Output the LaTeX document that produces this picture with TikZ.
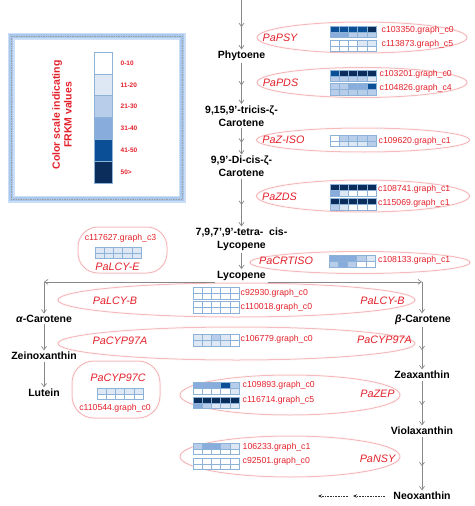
\documentclass[tikz,border=0pt]{standalone}
\usepackage{fontspec}
\setmainfont{Liberation Sans}
\usetikzlibrary{arrows.meta,decorations.markings,shapes.geometric}
\definecolor{redtxt}{HTML}{E3202A}
\definecolor{encol}{HTML}{F2A0A5}
\definecolor{arrgray}{HTML}{888888}
\definecolor{hm0}{HTML}{FFFFFF}
\definecolor{hm1}{HTML}{DEE8F4}
\definecolor{hm2}{HTML}{B7CDEA}
\definecolor{hm3}{HTML}{88ADDC}
\definecolor{hm4}{HTML}{0B4F97}
\definecolor{hm5}{HTML}{0A2D5C}
\definecolor{gridc}{HTML}{8DB2D8}
\definecolor{glowc}{HTML}{A9C8EE}
\newcommand\hmap[4]{%
  \foreach \v [count=\i from 0] in {#3}{\path[hcell,fill=hm\v] ({#1+\i*9.2},{#2}) rectangle ++(9.2,5.8);}%
  \foreach \v [count=\i from 0] in {#4}{\path[hcell,fill=hm\v] ({#1+\i*9.2},{#2+5.8}) rectangle ++(9.2,5.8);}%
}
\tikzset{
  plabel/.style={font=\bfseries\fontsize{10.5}{13}\selectfont, align=center, inner sep=1.5pt, text=black},
  elabel/.style={font=\itshape\fontsize{10.8}{13}\selectfont, text=redtxt, inner sep=1pt},
  gene/.style={font=\fontsize{8.7}{10}\selectfont, text=redtxt, inner sep=0.5pt, anchor=west},
  genec/.style={font=\fontsize{8.7}{10}\selectfont, text=redtxt, inner sep=0.5pt},
  enz/.style={draw=encol, line width=0.5pt, preaction={draw=encol!15, line width=2.2pt}, inner sep=0pt},
  enzell/.style={enz, ellipse},
  hcell/.style={draw=gridc, line width=0.35pt},
  barb/.tip={Straight Barb[length=3.5pt,width=5pt,line width=0.7pt]},
  harrow/.style={draw=arrgray, color=arrgray, line width=0.6pt, -barb},
  garrow/.style={harrow, postaction={decorate},
    decoration={markings, mark=at position 0.55 with {\arrow{barb}}}},
  dotar/.style={densely dotted, draw=black!80, line width=0.6pt, -{Stealth[length=4pt,width=3.5pt]}},
  legval/.style={font=\bfseries\fontsize{6.5}{8}\selectfont, text=redtxt, anchor=west, inner sep=0.5pt}
}
\begin{document}
\begin{tikzpicture}[x=1pt,y=-1pt]
\useasboundingbox (0,0) rectangle (474,506);

% ---- legend ----
\node[draw=glowc!60, line width=7pt, minimum width=171pt, minimum height=163pt, inner sep=0pt] (legendglow) at (96.5,117.5) {};
\node[draw=glowc, line width=4pt, minimum width=171pt, minimum height=163pt, inner sep=0pt] (legend) at (96.5,117.5) {};
\node[draw=gray!75, densely dotted, line width=0.7pt, minimum width=171pt, minimum height=163pt, inner sep=0pt] (legendin) at (96.5,117.5) {};
\foreach \c [count=\i from 0] in {hm0,hm1,hm2,hm3,hm4,hm5}{\path[hcell,fill=\c] (94,{52+\i*21.8}) rectangle ++(18,21.8);}
\node[legval] (lv0) at (120,63) {0-10};
\node[legval] (lv1) at (120,84.8) {11-20};
\node[legval] (lv2) at (120,106.6) {21-30};
\node[legval] (lv3) at (120,128.4) {31-40};
\node[legval] (lv4) at (120,150.2) {41-50};
\node[legval] (lv5) at (120,172) {50>};
\node[font=\bfseries\fontsize{10.5}{11.8}\selectfont, text=redtxt, rotate=90, align=center, inner sep=0pt] (ltitle) at (62,115) {Color scale indicating\\FRKM values};

% ---- enzyme enclosures ----
\node[enzell, minimum width=210pt, minimum height=31pt] (ePSY) at (362,37.5) {};
\node[enzell, minimum width=210pt, minimum height=30pt] (ePDS) at (362,82.5) {};
\node[enzell, minimum width=213pt, minimum height=24pt] (eISO) at (363,140) {};
\node[enzell, minimum width=213pt, minimum height=32pt] (eZDS) at (363,196) {};
\node[enzell, minimum width=220pt, minimum height=22pt] (eCRT) at (360,262.5) {};
\node[enz, rectangle, rounded corners=20pt, minimum width=89pt, minimum height=46pt] (eLCYE) at (122.5,250) {};
\node[enzell, minimum width=357pt, minimum height=34pt] (eLCYB) at (236.5,300) {};
\node[enzell, minimum width=357pt, minimum height=33pt] (eCYPA) at (236.5,343.5) {};
\node[enz, rectangle, rounded corners=22pt, minimum width=88pt, minimum height=57pt] (eCYPC) at (116,389.5) {};
\node[enzell, minimum width=220pt, minimum height=40pt] (eZEP) at (290,395) {};
\node[enzell, minimum width=220pt, minimum height=41pt] (eNSY) at (290,456.5) {};

% ---- heatmaps ----
\hmap{330}{26}{4,4,4,4,5}{3,3,2,2,2}
\hmap{330}{40}{0,0,0,1,1}{0,0,0,0,0}
\hmap{330}{70}{4,5,5,5,5}{2,2,2,2,1}
\hmap{330}{83.5}{2,2,3,3,4}{2,2,2,2,2}
\hmap{330}{135}{0,2,2,2,2}{0,1,1,1,2}
\hmap{330}{184.5}{5,5,5,5,5}{3,1,0,0,0}
\hmap{330}{198.5}{5,5,5,5,5}{2,1,0,0,0}
\hmap{329}{255.5}{3,3,3,2,1}{2,3,2,0,0}
\hmap{95}{247}{1,1,1,1,1}{1,1,1,1,1}
\hmap{193}{287.5}{0,0,0,0,0}{0,0,0,0,0}
\hmap{193}{301.5}{0,0,0,0,0}{0,0,0,0,0}
\hmap{193}{334.5}{1,1,2,1,0}{1,1,1,1,0}
\hmap{97}{388}{1,1,1,1,1}{0,0,0,0,0}
\hmap{193}{382.5}{3,3,3,4,2}{0,0,0,0,1}
\hmap{193}{397}{5,5,5,5,5}{3,2,1,1,1}
\hmap{193}{443}{2,3,3,2,1}{0,0,0,0,0}
\hmap{193}{458}{0,0,0,0,0}{0,0,0,0,0}

% ---- enzyme labels ----
\node[elabel] (lPSY) at (280,37.5) {PaPSY};
\node[elabel] (lPDS) at (280.5,83) {PaPDS};
\node[elabel] (lISO) at (283.5,140) {PaZ-ISO};
\node[elabel] (lZDS) at (279.5,197) {PaZDS};
\node[elabel] (lCRT) at (286,261) {PaCRTISO};
\node[elabel] (lLCYE) at (117.5,266.5) {PaLCY-E};
\node[elabel] (lLCYB1) at (115,300.5) {PaLCY-B};
\node[elabel] (lLCYB2) at (382.5,300.5) {PaLCY-B};
\node[elabel] (lCYPA1) at (120,340.5) {PaCYP97A};
\node[elabel] (lCYPA2) at (384.5,339.5) {PaCYP97A};
\node[elabel] (lCYPC) at (118,378) {PaCYP97C};
\node[elabel] (lZEP) at (377.5,394) {PaZEP};
\node[elabel] (lNSY) at (377.5,458.5) {PaNSY};

% ---- gene ids ----
\node[gene] (g1) at (381,30.5) {c103350.graph\_c0};
\node[gene] (g2) at (381,44) {c113873.graph\_c5};
\node[gene] (g3) at (379,74) {c103201.graph\_c0};
\node[gene] (g4) at (379,88) {c104826.graph\_c4};
\node[gene] (g5) at (378,141) {c109620.graph\_c1};
\node[gene] (g6) at (377.5,189) {c108741.graph\_c1};
\node[gene] (g7) at (377.5,203) {c115069.graph\_c1};
\node[gene] (g8) at (377.5,260.7) {c108133.graph\_c1};
\node[genec] (g9) at (120.5,238) {c117627.graph\_c3};
\node[gene] (g10) at (240,293) {c92930.graph\_c0};
\node[gene] (g11) at (240,307.5) {c110018.graph\_c0};
\node[gene] (g12) at (240,339.5) {c106779.graph\_c0};
\node[genec] (g13) at (115,408) {c110544.graph\_c0};
\node[gene] (g14) at (242,385.7) {c109893.graph\_c0};
\node[gene] (g15) at (242,400.7) {c116714.graph\_c5};
\node[gene] (g16) at (242,447.3) {106233.graph\_c1};
\node[gene] (g17) at (242,461.7) {c92501.graph\_c0};

% ---- pathway ----
\coordinate (top) at (241.5,0);
\node[plabel] (phy) at (241.5,56) {Phytoene};
\node[plabel] (tri) at (241.5,116) {9,15,9'-tricis-ζ-\\Carotene};
\node[plabel] (dic) at (241.5,166.5) {9,9'-Di-cis-ζ-\\Carotene};
\node[plabel] (tet) at (241.5,239.5) {7,9,7',9'-tetra-\ \ cis-\\Lycopene};
\node[plabel] (lyc) at (241.5,275.5) {Lycopene};
\node[plabel] (acar) at (44,319) {\textit{α}-Carotene};
\node[plabel] (zein) at (44,356) {Zeinoxanthin};
\node[plabel] (lut) at (44,393) {Lutein};
\node[plabel] (bcar) at (423,320) {\textit{β}-Carotene};
\node[plabel] (zea) at (422,375) {Zeaxanthin};
\node[plabel] (vio) at (422,431) {Violaxanthin};
\node[plabel] (neo) at (422,496) {Neoxanthin};

\draw[garrow] (top) -- (phy);
\draw[garrow] (phy) -- (tri);
\draw[garrow] (tri) -- (dic);
\draw[garrow] (dic) -- (tet);
\draw[harrow] (tet) -- (lyc);
\draw[harrow] (lyc.south west) -- (lyc.south west -| acar);
\draw[harrow] (lyc.south east) -- (lyc.south east -| zea);
\draw[harrow] (lyc.south west -| acar) -- (acar);
\draw[harrow] (acar) -- (zein);
\draw[harrow] (zein) -- (lut);
\draw[harrow] (lyc.south east -| zea) -- (zea.center |- bcar.north);
\draw[garrow] (bcar.south -| zea) -- (zea);
\draw[garrow] (zea) -- (vio);
\draw[garrow] (vio) -- (neo);
\coordinate (nB) at (353,496);
\coordinate (nC) at (348,496);
\coordinate (nD) at (318,496);
\draw[dotar, shorten <=7pt] (neo.west) -- (nB);
\draw[dotar] (nC) -- (nD);
\end{tikzpicture}
\end{document}
